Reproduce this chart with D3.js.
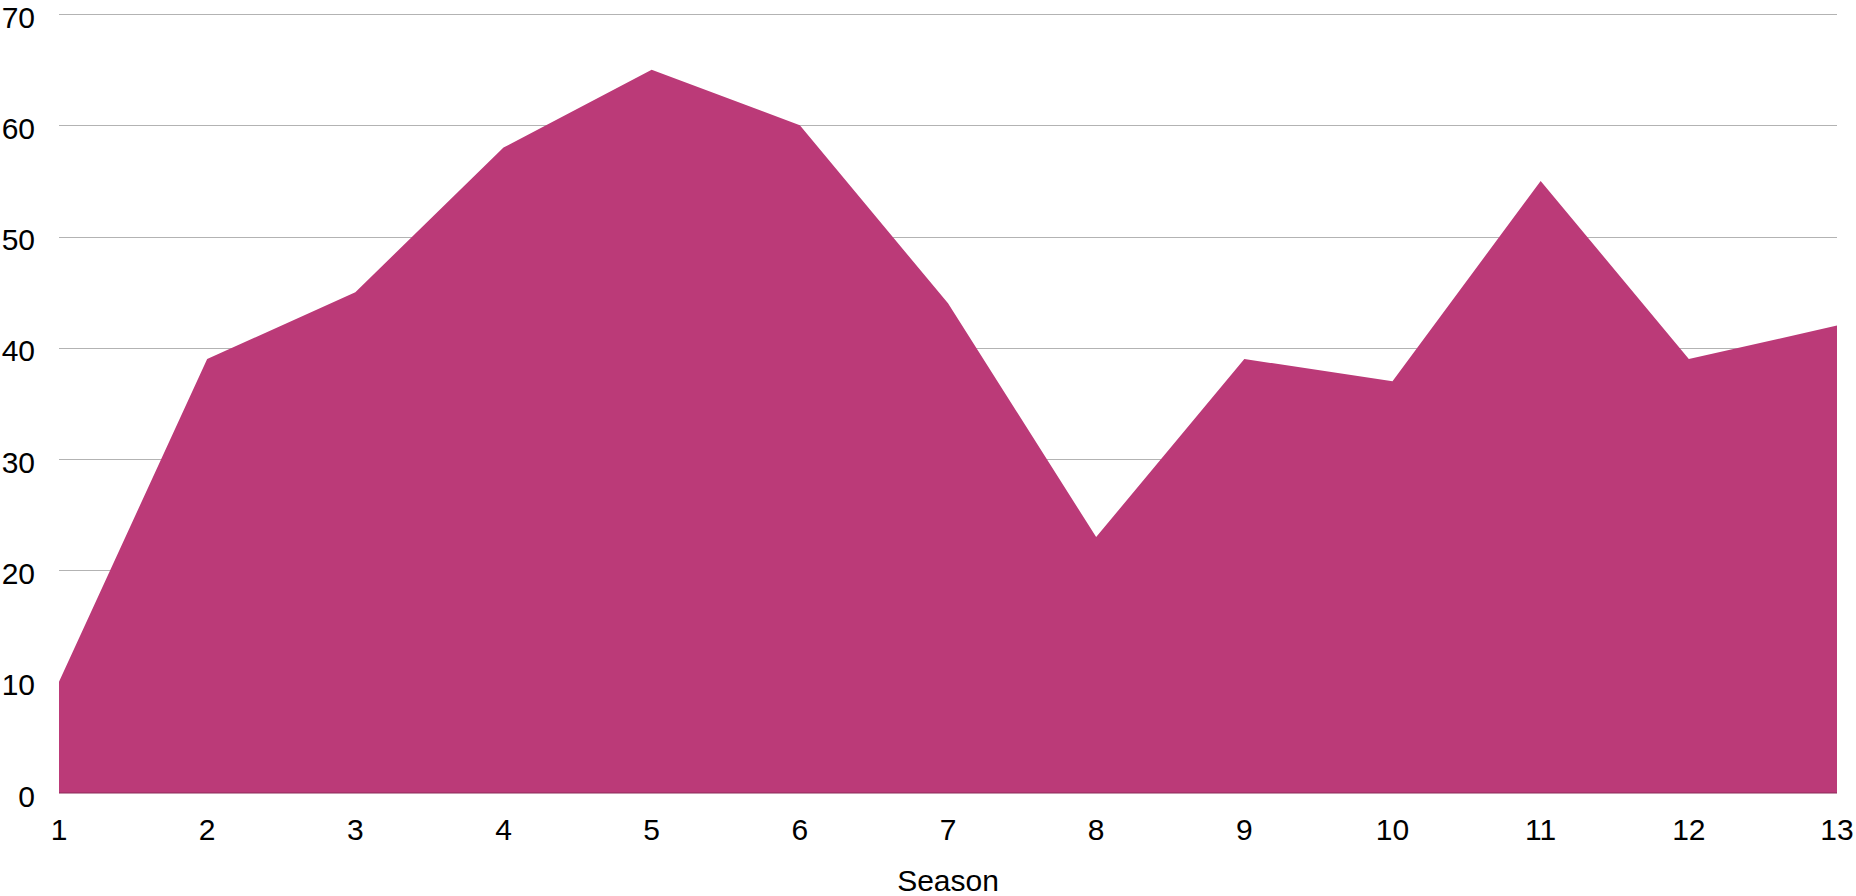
<!DOCTYPE html>
<html><head><meta charset="utf-8">
<script src="https://cdn.jsdelivr.net/npm/d3@7"></script>
<style>
html,body{margin:0;padding:0;background:#fff;}
svg{display:block;font-family:"Liberation Sans",Arial,Helvetica,sans-serif;}
</style></head>
<body>
<svg id="chart" width="1856" height="896"></svg>
<script>
const seasons = [1,2,3,4,5,6,7,8,9,10,11,12,13];
const values = [10,39,45,58,65,60,44,23,39,37,55,39,42];
const yTicks = [0,10,20,30,40,50,60,70];
const xLabel = "Season";

const W = 1856, H = 896;
const margin = {left:59, right:19, top:14, bottom:103};
const svg = d3.select("#chart");
const x = d3.scaleLinear().domain([1,13]).range([margin.left, W - margin.right]);
const y = d3.scaleLinear().domain([0,70]).range([H - margin.bottom, margin.top]);

// gridlines
svg.append("g").selectAll("line").data(yTicks.filter(d=>d>0)).join("line")
  .attr("x1", x(1)).attr("x2", x(13))
  .attr("y1", d=>Math.round(y(d))+0.5).attr("y2", d=>Math.round(y(d))+0.5)
  .attr("stroke", "#b3b3b3").attr("stroke-width", 1);

// area
const area = d3.area().x((d,i)=>x(seasons[i])).y0(y(0)).y1(d=>y(d));
svg.append("path").datum(values).attr("d", area).attr("fill", "#bb3a78");

// baseline
svg.append("line").attr("x1", x(1)).attr("x2", x(13))
  .attr("y1", y(0)).attr("y2", y(0)).attr("stroke", "#8a2a58").attr("stroke-width", 1);

// y labels
svg.append("g").selectAll("text").data(yTicks).join("text")
  .attr("x", 35).attr("y", d=>y(d)).attr("dy", "0.45em")
  .attr("text-anchor", "end").attr("font-size", 30).attr("fill", "#000")
  .text(d=>d);

// x labels
svg.append("g").selectAll("text").data(seasons).join("text")
  .attr("x", d=>x(d)).attr("y", 840)
  .attr("text-anchor", "middle").attr("font-size", 30).attr("fill", "#000")
  .text(d=>d);

svg.append("text").attr("x", (x(1)+x(13))/2).attr("y", 891)
  .attr("text-anchor", "middle").attr("font-size", 30).attr("fill", "#000")
  .text(xLabel);
</script>
</body></html>
